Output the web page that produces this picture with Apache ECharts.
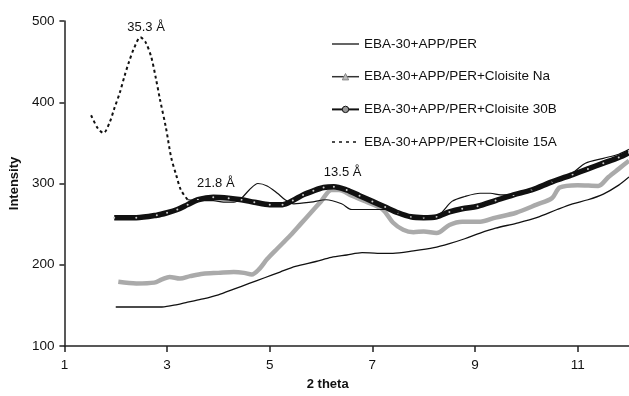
<!DOCTYPE html>
<html>
<head>
<meta charset="utf-8">
<script src="https://cdn.jsdelivr.net/npm/echarts@6/dist/echarts.min.js"></script>
<style>html,body{margin:0;padding:0;background:#fff}#c{width:629px;height:396px}</style>
</head>
<body>
<div id="c"></div>
<script>
const seriesNames = ['EBA-30+APP/PER','EBA-30+APP/PER+Cloisite Na','EBA-30+APP/PER+Cloisite 30B','EBA-30+APP/PER+Cloisite 15A'];
const xTickLabels = [1,3,5,7,9,11];
const base = [[2.0,148],[2.5,148],[2.9,148],[3.2,151],[3.4,154],[3.7,158],[4.0,163],[4.3,170],[4.6,177],[4.9,184],[5.2,191],[5.5,198],[5.9,204],[6.2,209],[6.5,212],[6.8,215],[7.1,214],[7.4,214],[7.8,217],[8.2,221],[8.5,226],[8.8,232],[9.1,239],[9.4,245],[9.8,251],[10.2,258],[10.6,268],[10.9,275],[11.2,280],[11.5,287],[11.8,298],[12.0,308]];
const na = [[2.05,179],[2.4,177],[2.75,178],[2.9,182],[3.05,185],[3.25,183],[3.45,186],[3.7,189],[4.0,190],[4.3,191],[4.5,190],[4.65,188],[4.8,195],[4.95,207],[5.15,220],[5.4,236],[5.6,250],[5.8,264],[6.0,278],[6.2,292],[6.35,292],[6.6,285],[6.9,277],[7.2,268],[7.4,252],[7.6,243],[7.8,240],[8.0,241],[8.25,239],[8.5,249],[8.75,253],[9.1,253],[9.4,258],[9.8,264],[10.2,274],[10.5,282],[10.65,295],[11.0,298],[11.4,297],[11.6,308],[11.8,318],[12.0,328]];
const c30b = [[1.97,258],[2.4,258],[2.8,261],[3.0,264],[3.2,268],[3.4,274],[3.6,280],[3.9,283],[4.2,282],[4.45,280],[4.7,277],[5.0,274],[5.25,274],[5.45,279],[5.65,286],[5.85,291],[6.05,295],[6.25,296],[6.5,292],[6.75,285],[7.0,278],[7.25,271],[7.5,264],[7.75,259],[8.0,258],[8.25,259],[8.5,265],[8.75,269],[9.05,272],[9.4,279],[9.75,286],[10.1,292],[10.5,302],[10.9,311],[11.2,318],[11.5,325],[11.8,332],[12.0,338]];
const c15aLow = [[1.52,384],[1.65,368],[1.76,362],[1.88,375],[1.97,392],[2.08,412],[2.17,432],[2.26,450],[2.36,467],[2.48,480],[2.58,474],[2.69,456],[2.78,430],[2.86,404],[2.98,368],[3.08,332],[3.18,310],[3.27,292],[3.4,280]];
const c15aHigh = [[3.4,280],[3.6,279],[3.9,279],[4.1,277],[4.3,277],[4.45,282],[4.6,292],[4.77,300],[4.95,297],[5.15,288],[5.3,280],[5.47,275],[5.8,277],[6.1,280],[6.4,275],[6.6,268],[7.0,268],[7.3,268],[7.6,262],[8.0,259],[8.3,262],[8.55,278],[8.8,284],[9.1,288],[9.3,288],[9.5,286],[9.8,287],[10.1,292],[10.5,302],[10.9,313],[11.15,325],[11.5,331],[11.8,336],[12.0,342]];
const peakLabels = [{text:'35.3 Å', x:2.59, y:492},{text:'21.8 Å', x:3.95, y:300},{text:'13.5 Å', x:6.42, y:314}];

const FONT = 'Liberation Sans, Arial, sans-serif';
const chart = echarts.init(document.getElementById('c'), null, {renderer:'canvas'});
chart.setOption({
  animation: false,
  backgroundColor: '#fff',
  textStyle: {fontFamily: FONT},
  grid: {left: 63, right: 0, top: 21, bottom: 44, containLabel: false},
  legend: {
    orient: 'vertical', left: 326, top: 32, itemWidth: 27, itemHeight: 8, itemGap: 18.7,
    textStyle: {fontFamily: FONT, fontSize: 13.5, color: '#111'},
    data: [
      {name: seriesNames[0], lineStyle: {color: '#111', width: 1.3}, itemStyle: {opacity: 0}},
      {name: seriesNames[1], lineStyle: {color: '#333', width: 1.5}, itemStyle: {color: '#bbb', borderColor: '#888', borderWidth: 1}},
      {name: seriesNames[2], lineStyle: {color: '#111', width: 2}, itemStyle: {color: '#999', borderColor: '#111', borderWidth: 1}},
      {name: seriesNames[3], lineStyle: {color: '#111', width: 1.5, type: [3, 4]}, itemStyle: {opacity: 0}}
    ]
  },
  xAxis: {
    type: 'value', min: 1, max: 12,
    name: '2 theta', nameLocation: 'middle', nameGap: 32,
    nameTextStyle: {fontFamily: FONT, fontWeight: 'bold', fontSize: 13, color: '#111', padding: [0, 38, 0, 0]},
    axisLine: {show: true, lineStyle: {color: '#222', width: 1.5}},
    axisTick: {show: true, length: 6, lineStyle: {color: '#222', width: 1.5}, customValues: xTickLabels},
    axisLabel: {fontFamily: FONT, fontSize: 13.5, color: '#111', margin: 12, customValues: xTickLabels},
    splitLine: {show: false}
  },
  yAxis: {
    type: 'value', min: 100, max: 500, interval: 100,
    name: 'Intensity', nameLocation: 'middle', nameGap: 43,
    nameTextStyle: {fontFamily: FONT, fontWeight: 'bold', fontSize: 13, color: '#111'},
    axisLine: {show: true, lineStyle: {color: '#222', width: 1.5}},
    axisTick: {show: true, length: 5, lineStyle: {color: '#222', width: 1.5}},
    axisLabel: {fontFamily: FONT, fontSize: 13.5, color: '#111', margin: 10},
    splitLine: {show: false}
  },
  series: [
    {name: seriesNames[0], type: 'line', data: base, symbol: 'none', smooth: 0.3,
     lineStyle: {color: '#111', width: 1.3}, itemStyle: {color: '#111'}, z: 2},
    {name: seriesNames[1], type: 'line', data: na, symbol: 'triangle', symbolSize: 5, showSymbol: false, smooth: 0.3,
     lineStyle: {color: '#aaa', width: 4.5}, itemStyle: {color: '#aaa'}, z: 3},
    {name: seriesNames[2], type: 'line', data: c30b, symbol: 'circle', symbolSize: 2, showSymbol: true, smooth: 0.3,
     lineStyle: {color: '#111', width: 5.5}, itemStyle: {color: '#ccc'}, z: 4},
    {name: seriesNames[3], type: 'line', data: c15aLow, symbol: 'none', smooth: 0.3,
     lineStyle: {color: '#111', width: 2, type: [3, 3]}, itemStyle: {color: '#111'}, z: 5,
     markPoint: {symbol: 'circle', symbolSize: 0,
       label: {show: true, position: 'inside', fontFamily: FONT, fontSize: 13, color: '#111', formatter: p => p.name},
       data: peakLabels.map(p => ({name: p.text, coord: [p.x, p.y]}))}},
    {name: seriesNames[3], type: 'line', data: c15aHigh, symbol: 'none', smooth: 0.3,
     lineStyle: {color: '#111', width: 1.2}, itemStyle: {color: '#111'}, z: 5}
  ]
});
</script>
</body>
</html>
